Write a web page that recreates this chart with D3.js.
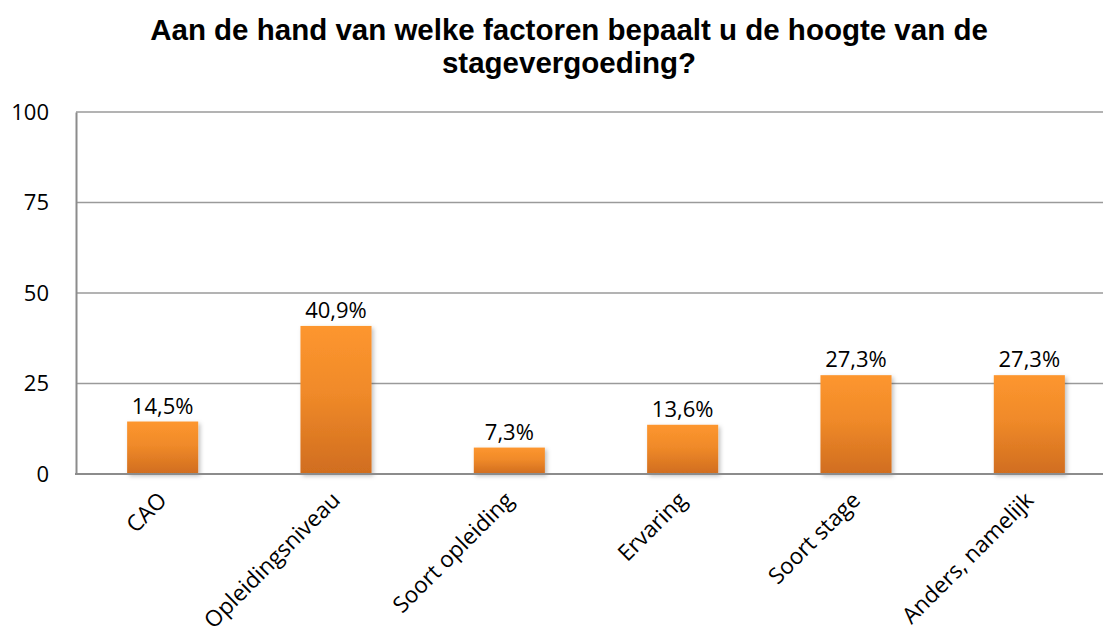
<!DOCTYPE html>
<html>
<head>
<meta charset="utf-8">
<script src="https://cdn.jsdelivr.net/npm/d3@7"></script>
<style>
  body { margin: 0; background: #fff; }
  svg { display: block; }
</style>
</head>
<body>
<div id="chart"></div>
<script>
// Chart data
const categories = ["CAO", "Opleidingsniveau", "Soort opleiding", "Ervaring", "Soort stage", "Anders, namelijk"];
const values = [14.5, 40.9, 7.3, 13.6, 27.3, 27.3];
const labels = ["14,5%", "40,9%", "7,3%", "13,6%", "27,3%", "27,3%"];
const yTicks = [0, 25, 50, 75, 100];

const width = 1103, height = 637;
const margin = { top: 112, left: 76, bottom: 163, right: -13 };
const font = "'Open Sans', 'Noto Sans', sans-serif";

const svg = d3.select("#chart")
  .append("svg")
  .attr("width", width)
  .attr("height", height);

// Gradient + shadow for the bars
const defs = svg.append("defs");
const grad = defs.append("linearGradient")
  .attr("id", "barGrad")
  .attr("x1", 0).attr("y1", 0).attr("x2", 0).attr("y2", 1);
grad.append("stop").attr("offset", "0%").attr("stop-color", "#fd962f");
grad.append("stop").attr("offset", "45%").attr("stop-color", "#f08a29");
grad.append("stop").attr("offset", "100%").attr("stop-color", "#d06d1f");

const shadow = defs.append("filter").attr("id", "shadow")
  .attr("x", "-20%").attr("y", "-20%").attr("width", "150%").attr("height", "150%");
shadow.append("feDropShadow")
  .attr("dx", 2).attr("dy", 2).attr("stdDeviation", 2)
  .attr("flood-color", "#000").attr("flood-opacity", 0.25);

const x = d3.scaleBand()
  .domain(categories)
  .range([margin.left, width - margin.right])
  .padding(0);

const y = d3.scaleLinear()
  .domain([0, 100])
  .range([height - margin.bottom, margin.top]);

// Title
svg.append("text")
  .attr("text-anchor", "middle")
  .style("font-family", "'Liberation Sans', Arial, sans-serif")
  .style("font-weight", "bold")
  .style("font-size", "29.5px")
  .selectAll("tspan")
  .data(["Aan de hand van welke factoren bepaalt u de hoogte van de", "stagevergoeding?"])
  .join("tspan")
  .attr("x", 569)
  .attr("y", (d, i) => 40 + i * 33)
  .text(d => d);

// Gridlines
svg.append("g")
  .selectAll("line")
  .data(yTicks.filter(d => d > 0))
  .join("line")
  .attr("x1", margin.left)
  .attr("x2", width)
  .attr("y1", d => y(d))
  .attr("y2", d => y(d))
  .attr("stroke", "#9a9a9a")
  .attr("stroke-width", 1.5);

// Y axis
const yAxis = svg.append("g")
  .attr("transform", `translate(${margin.left},0)`)
  .call(d3.axisLeft(y).tickValues(yTicks).tickSize(0).tickPadding(27));
yAxis.select(".domain").attr("stroke", "#8c8c8c").attr("stroke-width", 2);
yAxis.selectAll("text")
  .style("font-family", font)
  .style("font-size", "22px")
  .attr("fill", "#000");

// Bars
const barW = x.bandwidth() * 0.41;
svg.append("g")
  .selectAll("rect")
  .data(values)
  .join("rect")
  .attr("x", (d, i) => x(categories[i]) + (x.bandwidth() - barW) / 2)
  .attr("y", d => y(d))
  .attr("width", barW)
  .attr("height", d => y(0) - y(d))
  .attr("fill", "url(#barGrad)")
  .attr("filter", "url(#shadow)");

// Baseline
svg.append("line")
  .attr("x1", margin.left - 1)
  .attr("x2", width)
  .attr("y1", y(0))
  .attr("y2", y(0))
  .attr("stroke", "#8c8c8c")
  .attr("stroke-width", 2);

// Data labels
svg.append("g")
  .selectAll("text")
  .data(values)
  .join("text")
  .attr("x", (d, i) => x(categories[i]) + x.bandwidth() / 2)
  .attr("y", d => y(d) - 8)
  .attr("text-anchor", "middle")
  .style("font-family", font)
  .style("font-size", "22px")
  .attr("fill", "#000")
  .text((d, i) => labels[i]);

// Category labels (rotated)
svg.append("g")
  .selectAll("text")
  .data(categories)
  .join("text")
  .attr("transform", d => `translate(${x(d) + x.bandwidth() / 2},${y(0) + 22}) rotate(-45)`)
  .attr("text-anchor", "end")
  .attr("dy", "0.35em")
  .style("font-family", font)
  .style("font-size", "22.5px")
  .attr("fill", "#000")
  .text(d => d);
</script>
</body>
</html>
